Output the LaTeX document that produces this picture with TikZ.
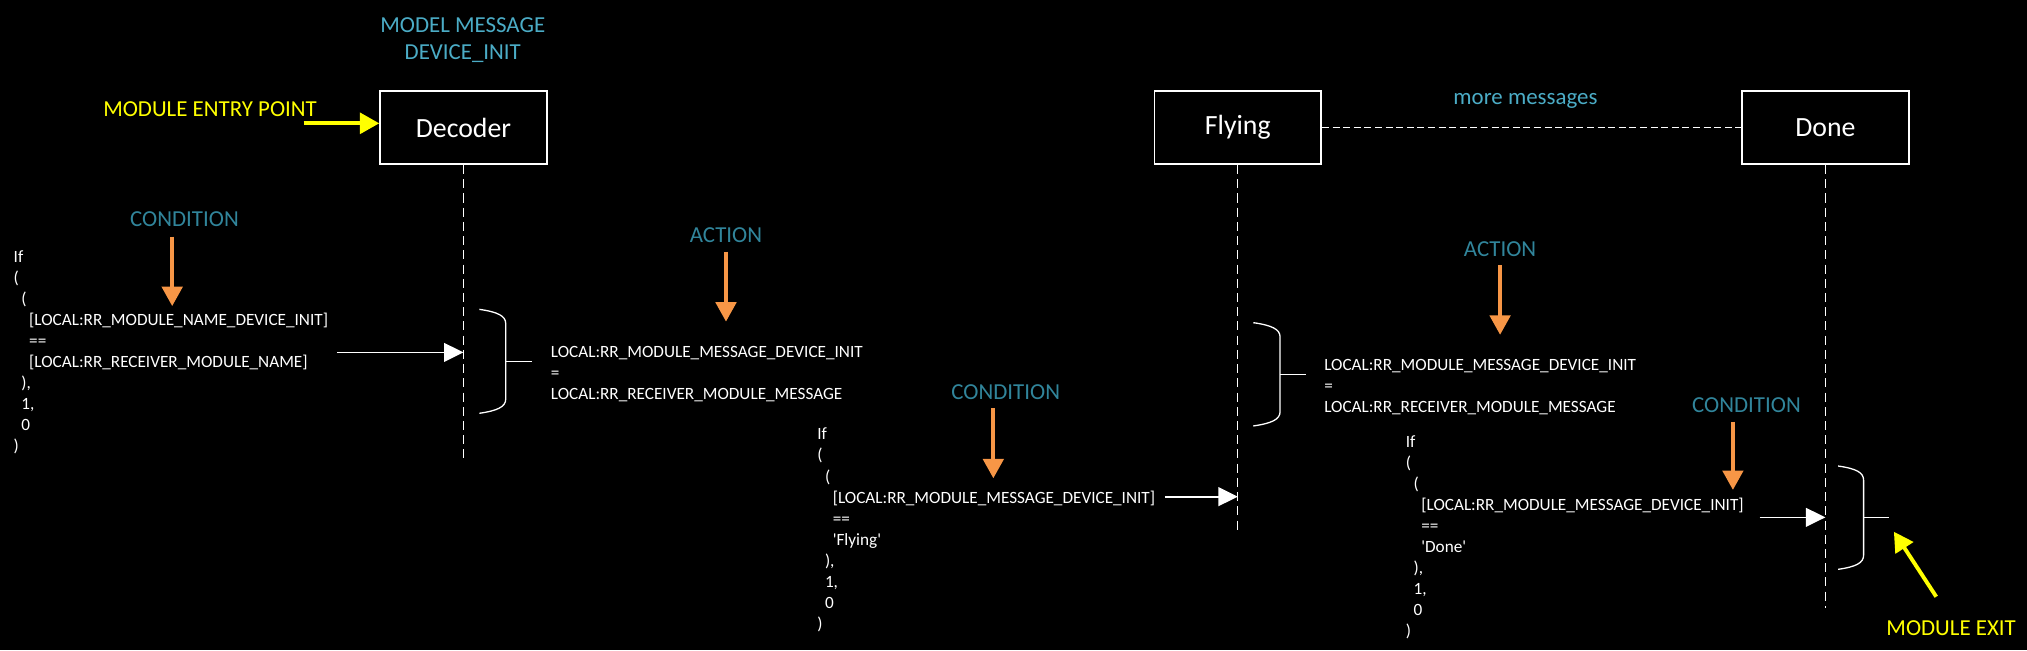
\documentclass[tikz,border=0pt]{standalone}
\usepackage{fontspec}
\setmainfont{Carlito}
\usetikzlibrary{arrows.meta,positioning}
\definecolor{tagteal}{RGB}{49,133,155}
\definecolor{lightteal}{RGB}{75,172,198}
\definecolor{hintorange}{RGB}{247,150,70}
\definecolor{markyellow}{RGB}{255,255,0}

\begin{document}
\begin{tikzpicture}[
    x=1pt, y=-1pt,
    state/.style={draw=white,line width=1.2pt,minimum width=129pt,minimum height=56.7pt,font=\fontsize{21.5}{25}\selectfont,text=white},
    lifeline/.style={white,line width=1pt,dash pattern=on 7pt off 4pt},
    tag/.style={font=\fontsize{17.7}{21}\selectfont,text=tagteal,align=center,anchor=base,inner sep=0pt},
    signpost/.style={font=\fontsize{17.7}{21}\selectfont,text=markyellow,anchor=base,inner sep=0pt},
    code/.style={font=\fontsize{13.3}{16.3}\selectfont,text=white,align=left,anchor=base west,inner sep=0pt},
    hint/.style={-{Triangle[length=15pt,width=15.7pt]},line width=3pt,hintorange},
    pointer/.style={-{Triangle[length=15pt,width=16pt]},line width=3pt,markyellow},
    call/.style={-{Triangle[length=15pt,width=14.5pt]},line width=1.3pt,white},
    brace/.style={white,line width=1pt},
]
\fill[black] (0,0) rectangle (1568,503);
\useasboundingbox (0,0) rectangle (1568,503);

% lifelines heads
\node[state] (decoder) at (358.5,98.7) {Decoder};
\node[state] (flying) at (957.5,98.7) {Flying};
\node[state] (done) at (1412,98.7) {Done};
\draw[white,line width=1pt,dash pattern=on 5.5pt off 2.7pt] (flying) -- (done);
\node[tag,text=lightteal] (more) at (1180,80.5) {more messages};
\node[tag,text=lightteal] (model) at (358,46) {MODEL MESSAGE\\DEVICE\_INIT};

\coordinate (decoderend) at (358.4,358);
\coordinate (flyingend) at (957.2,412.6);
\coordinate (doneend) at (1412,470);
\draw[lifeline] (decoder.south) -- (decoder.south |- decoderend);
\draw[lifeline] (flying.south) -- (flying.south |- flyingend);
\draw[lifeline] (done.south) -- (done.south |- doneend);

% entry and exit
\node[signpost] (entry) at (162.5,90.3) {MODULE ENTRY POINT};
\coordinate (entryout) at (234.8,95.4);
\draw[pointer] (entryout) -- (decoder.west |- entryout);
\node[signpost] (exit) at (1509.3,491.7) {MODULE EXIT};
\coordinate (exitfrom) at (1497.8,461.6);
\coordinate (exitto) at (1465,411.3);
\draw[pointer] (exitfrom) -- (exitto);

% conditions
\node[code] (cond1code) at (10.4,349.5) {If\\(\\\hspace*{6pt}(\\\hspace*{12pt}[LOCAL:RR\_MODULE\_NAME\_DEVICE\_INIT]\\\hspace*{12pt}==\\\hspace*{12pt}[LOCAL:RR\_RECEIVER\_MODULE\_NAME]\\\hspace*{6pt}),\\\hspace*{6pt}1,\\\hspace*{6pt}0\\)};
\node[code] (cond2code) at (632,487) {If\\(\\\hspace*{6pt}(\\\hspace*{12pt}[LOCAL:RR\_MODULE\_MESSAGE\_DEVICE\_INIT]\\\hspace*{12pt}==\\\hspace*{12pt}\textquotesingle Flying\textquotesingle\\\hspace*{6pt}),\\\hspace*{6pt}1,\\\hspace*{6pt}0\\)};
\node[code] (cond3code) at (1087.3,492.5) {If\\(\\\hspace*{6pt}(\\\hspace*{12pt}[LOCAL:RR\_MODULE\_MESSAGE\_DEVICE\_INIT]\\\hspace*{12pt}==\\\hspace*{12pt}\textquotesingle Done\textquotesingle\\\hspace*{6pt}),\\\hspace*{6pt}1,\\\hspace*{6pt}0\\)};

% actions
\node[code] (act1code) at (426,308.9) {LOCAL:RR\_MODULE\_MESSAGE\_DEVICE\_INIT\\=\\LOCAL:RR\_RECEIVER\_MODULE\_MESSAGE};
\node[code] (act2code) at (1024.2,319.3) {LOCAL:RR\_MODULE\_MESSAGE\_DEVICE\_INIT\\=\\LOCAL:RR\_RECEIVER\_MODULE\_MESSAGE};

% tags with their arrows
\node[tag] (cond1) at (142.7,175.3) {CONDITION};
\node[tag] (act1) at (561.6,187.5) {ACTION};
\node[tag] (cond2) at (778,309.2) {CONDITION};
\node[tag] (act2) at (1160.4,198.6) {ACTION};
\node[tag] (cond3) at (1351,319) {CONDITION};
\foreach \hx/\htop/\htip [count=\i] in {133.2/183/236.8, 561.6/194.7/248.8, 768.4/315.9/370, 1160.4/205/259, 1340.5/326.2/379}{
  \coordinate (hinttop\i) at (\hx,\htop);
  \coordinate (hinttip\i) at (\hx,\htip);
  \draw[hint] (hinttop\i) -- (hinttip\i);
}

% calls into the lifelines
\coordinate (call1) at (260.6,272.6);
\coordinate (call2) at (901,384.2);
\coordinate (call3) at (1361.2,400.2);
\draw[call] (call1) -- (call1 -| decoder.south);
\draw[call] (call2) -- (call2 -| flying.south);
\draw[call] (call3) -- (call3 -| done.south);

% braces
\foreach \bx/\bs/\bt/\bb in {370.8/391.2/239.3/319.7, 969.5/990.2/249.6/329.5, 1421.9/1441.6/360.5/440.4}{
  \draw[brace] (\bx,\bt) .. controls +(14,2) and +(0,-6) .. (\bs,\bt+11) -- (\bs,\bb-11) .. controls +(0,6) and +(14,-2) .. (\bx,\bb);
  \draw[brace] (\bs,{(\bt+\bb)/2}) -- (\bs+20,{(\bt+\bb)/2});
}
\end{tikzpicture}
\end{document}
